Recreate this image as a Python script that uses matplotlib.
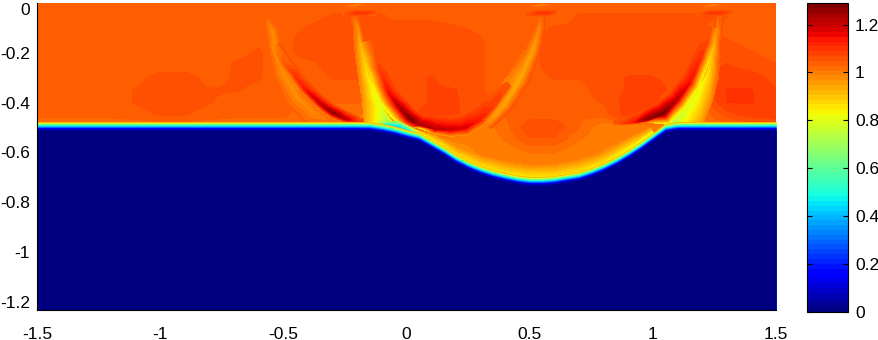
# -*- coding: utf-8 -*-
import numpy as np
import matplotlib
matplotlib.use("Agg")
import matplotlib.pyplot as plt
from matplotlib.tri import Triangulation

plt.rcParams["font.family"] = ["Liberation Sans", "DejaVu Sans"]
plt.rcParams["axes.unicode_minus"] = False

VMAX = 1.29

# coarse field above the front, x from -1.5 to 1.5 by 0.1, y from 0 to -0.75 by 0.05
field_x = [-1.5, -1.4, -1.3, -1.2, -1.1, -1.0, -0.9, -0.8, -0.7, -0.6, -0.5, -0.4, -0.3, -0.2, -0.1, 0.0,
           0.1, 0.2, 0.3, 0.4, 0.5, 0.6, 0.7, 0.8, 0.9, 1.0, 1.1, 1.2, 1.3, 1.4, 1.5]
field_y = [0.0, -0.05, -0.1, -0.15, -0.2, -0.25, -0.3, -0.35, -0.4, -0.45, -0.5, -0.55, -0.6, -0.65, -0.7, -0.75]
field = [
    [1.035, 1.035, 1.035, 1.035, 1.035, 1.035, 1.035, 1.035, 1.035, 1.035, 1.035, 1.035, 1.04, 1.04, 1.04, 1.04, 1.04, 1.04, 1.04, 1.04, 1.035, 1.035, 1.04, 1.04, 1.04, 1.04, 1.04, 1.04, 1.035, 1.035, 1.035],
    [1.035, 1.035, 1.035, 1.035, 1.035, 1.035, 1.035, 1.035, 1.04, 1.04, 1.04, 1.04, 1.05, 1.05, 1.05, 1.04, 1.04, 1.04, 1.04, 1.04, 1.04, 1.04, 1.05, 1.05, 1.05, 1.05, 1.05, 1.05, 1.05, 1.04, 1.04],
    [1.035, 1.035, 1.035, 1.035, 1.035, 1.035, 1.035, 1.035, 1.04, 1.04, 1.04, 1.05, 1.06, 1.05, 1.05, 1.06, 1.06, 1.05, 1.045, 1.04, 1.04, 1.05, 1.05, 1.06, 1.06, 1.06, 1.06, 1.05, 1.04, 1.04, 1.04],
    [1.035, 1.035, 1.035, 1.035, 1.035, 1.035, 1.035, 1.035, 1.045, 1.045, 1.04, 1.06, 1.06, 1.06, 1.05, 1.06, 1.06, 1.06, 1.05, 1.04, 1.04, 1.06, 1.06, 1.06, 1.06, 1.06, 1.06, 1.06, 1.05, 1.04, 1.04],
    [1.035, 1.035, 1.035, 1.035, 1.035, 1.035, 1.035, 1.035, 1.045, 1.05, 1.04, 1.06, 1.06, 1.06, 1.05, 1.06, 1.06, 1.06, 1.05, 1.04, 1.04, 1.06, 1.06, 1.06, 1.06, 1.06, 1.06, 1.06, 1.06, 1.05, 1.04],
    [1.035, 1.035, 1.035, 1.035, 1.035, 1.035, 1.035, 1.035, 1.05, 1.05, 1.04, 1.04, 1.06, 1.06, 1.05, 1.06, 1.06, 1.06, 1.05, 1.04, 1.04, 1.06, 1.06, 1.06, 1.06, 1.06, 1.06, 1.06, 1.07, 1.06, 1.05],
    [1.035, 1.035, 1.035, 1.035, 1.04, 1.06, 1.06, 1.04, 1.05, 1.05, 1.035, 1.035, 1.05, 1.05, 1.04, 1.06, 1.07, 1.06, 1.05, 1.04, 1.04, 1.05, 1.05, 1.06, 1.07, 1.07, 1.06, 1.06, 1.08, 1.08, 1.06],
    [1.035, 1.035, 1.035, 1.035, 1.05, 1.06, 1.06, 1.05, 1.05, 1.045, 1.035, 1.035, 1.04, 1.04, 1.035, 1.06, 1.07, 1.07, 1.05, 1.04, 1.04, 1.04, 1.04, 1.06, 1.07, 1.08, 1.06, 1.06, 1.09, 1.09, 1.07],
    [1.035, 1.035, 1.035, 1.035, 1.05, 1.06, 1.06, 1.05, 1.04, 1.035, 1.035, 1.02, 1.03, 1.03, 1.01, 1.06, 1.07, 1.07, 1.06, 1.03, 1.04, 1.04, 1.04, 1.05, 1.08, 1.08, 1.03, 1.04, 1.09, 1.09, 1.08],
    [1.035, 1.035, 1.035, 1.035, 1.04, 1.05, 1.05, 1.04, 1.035, 1.035, 1.035, 1.01, 1.01, 1.01, 0.99, 1.06, 1.08, 1.07, 1.06, 1.03, 1.04, 1.04, 1.03, 1.04, 1.08, 1.08, 1.01, 1.01, 1.06, 1.08, 1.08],
    [1.01, 1.01, 1.01, 1.01, 1.01, 1.01, 1.01, 1.01, 1.01, 1.01, 1.01, 1.01, 1.01, 1.01, 1.01, 0.99, 1.03, 1.01, 0.99, 1.02, 1.065, 1.065, 1.03, 0.99, 0.99, 0.99, 0.99, 1.01, 1.01, 1.03, 1.05],
    [0.99, 0.99, 0.99, 0.99, 0.99, 0.99, 0.99, 0.99, 0.99, 0.99, 0.99, 0.99, 0.99, 0.99, 0.99, 0.99, 0.98, 0.99, 0.99, 1.01, 1.045, 1.045, 1.01, 0.99, 0.99, 0.99, 0.99, 0.99, 0.99, 0.99, 0.99],
    [0.99, 0.99, 0.99, 0.99, 0.99, 0.99, 0.99, 0.99, 0.99, 0.99, 0.99, 0.99, 0.99, 0.99, 0.99, 0.99, 0.99, 0.98, 0.99, 0.99, 1.01, 1.01, 0.99, 0.99, 0.98, 0.98, 0.99, 0.99, 0.99, 0.99, 0.99],
    [0.99, 0.99, 0.99, 0.99, 0.99, 0.99, 0.99, 0.99, 0.99, 0.99, 0.99, 0.99, 0.99, 0.99, 0.99, 0.99, 0.99, 0.99, 0.98, 0.99, 0.99, 0.99, 0.99, 0.98, 0.98, 0.99, 0.99, 0.99, 0.99, 0.99, 0.99],
    [0.99, 0.99, 0.99, 0.99, 0.99, 0.99, 0.99, 0.99, 0.99, 0.99, 0.99, 0.99, 0.99, 0.99, 0.99, 0.99, 0.99, 0.99, 0.98, 0.98, 0.98, 0.98, 0.98, 0.98, 0.99, 0.99, 0.99, 0.99, 0.99, 0.99, 0.99],
    [0.99, 0.99, 0.99, 0.99, 0.99, 0.99, 0.99, 0.99, 0.99, 0.99, 0.99, 0.99, 0.99, 0.99, 0.99, 0.99, 0.99, 0.99, 0.99, 0.98, 0.98, 0.98, 0.98, 0.99, 0.99, 0.99, 0.99, 0.99, 0.99, 0.99, 0.99],
]

# depth of the front, x by 0.05
front_x = [-1.5, -1.45, -1.4, -1.35, -1.3, -1.25, -1.2, -1.15, -1.1, -1.05, -1.0, -0.95, -0.9, -0.85, -0.8, -0.75,
           -0.7, -0.65, -0.6, -0.55, -0.5, -0.45, -0.4, -0.35, -0.3, -0.25, -0.2, -0.15, -0.1, -0.05, 0.0, 0.05,
           0.1, 0.15, 0.2, 0.25, 0.3, 0.35, 0.4, 0.45, 0.5, 0.55, 0.6, 0.65, 0.7, 0.75, 0.8, 0.85, 0.9, 0.95,
           1.0, 1.05, 1.1, 1.15, 1.2, 1.25, 1.3, 1.35, 1.4, 1.45, 1.5]
front_y = [-0.49] * 27 + [-0.491, -0.498, -0.508, -0.522, -0.534, -0.562, -0.59, -0.622, -0.647, -0.667,
                          -0.683, -0.695, -0.705, -0.711, -0.711, -0.707, -0.699, -0.691, -0.675, -0.655,
                          -0.631, -0.602, -0.57, -0.534, -0.498] + [-0.49] * 9
# vertical transition through the front (offset from the front, value)
band_offsets = [0.014, 0.010, 0.006, 0.002, -0.002, -0.006, -0.010, -0.014, -0.020]
band_values = [0.92, 0.78, 0.64, 0.52, 0.42, 0.30, 0.18, 0.08, 0.0]

# ridges: x, y, value, width on the inner side, width on the outer side, value at inner edge, value at outer edge
light_a = ([-0.556, -0.546, -0.530, -0.501, -0.444, -0.379, -0.300],
           [-0.06, -0.108, -0.190, -0.281, -0.378, -0.442, -0.478],
           [1.035, 0.97, 0.97, 0.97, 0.97, 0.98, 1.01],
           [0.02, 0.025, 0.03, 0.035, 0.04, 0.04, 0.02], [0.02, 0.025, 0.03, 0.04, 0.05, 0.05, 0.02],
           [1.04] * 7, [1.035] * 7)
ridge_a = ([-0.534, -0.501, -0.461, -0.420, -0.379, -0.339, -0.298, -0.250, -0.197, -0.150],
           [-0.169, -0.237, -0.281, -0.337, -0.378, -0.414, -0.442, -0.466, -0.480, -0.484],
           [0.99, 1.04, 1.09, 1.13, 1.18, 1.21, 1.26, 1.21, 1.09, 0.99],
           [0.02, 0.03, 0.03, 0.03, 0.03, 0.03, 0.03, 0.03, 0.02, 0.01], [0.015, 0.018, 0.02, 0.02, 0.02, 0.02, 0.02, 0.015, 0.01, 0.005],
           [1.05] * 10, [0.97, 0.97, 0.97, 0.97, 0.97, 0.97, 0.98, 0.98, 0.98, 0.98])
yellow_b = ([-0.205, -0.197, -0.180, -0.156, -0.124, -0.091, -0.067, -0.05],
            [-0.05, -0.096, -0.189, -0.289, -0.369, -0.438, -0.478, -0.488],
            [1.035, 0.96, 0.90, 0.84, 0.79, 0.76, 0.68, 0.6],
            [0.015, 0.015, 0.018, 0.02, 0.02, 0.02, 0.02, 0.01], [0.02, 0.02, 0.03, 0.04, 0.06, 0.09, 0.09, 0.08],
            [1.05] * 8, [1.04, 1.03, 1.01, 0.99, 0.97, 0.94, 0.86, 0.76])
ridge_b = ([-0.150, -0.125, -0.100, -0.067, -0.026, 0.014, 0.055, 0.116, 0.177, 0.238, 0.299, 0.360, 0.42],
           [-0.150, -0.215, -0.290, -0.369, -0.422, -0.466, -0.490, -0.506, -0.510, -0.502, -0.470, -0.410, -0.33],
           [1.04, 1.05, 1.10, 1.16, 1.23, 1.28, 1.23, 1.21, 1.19, 1.18, 1.13, 1.08, 1.05],
           [0.02, 0.02, 0.03, 0.035, 0.04, 0.04, 0.04, 0.05, 0.05, 0.05, 0.05, 0.04, 0.02],
           [0.04, 0.045, 0.045, 0.05, 0.05, 0.05, 0.012, 0.02, 0.025, 0.03, 0.025, 0.015, 0.01],
           [1.06] * 13, [0.92, 0.89, 0.85, 0.80, 0.78, 0.76, 0.8, 0.93, 0.96, 0.97, 0.97, 0.96, 0.97])
light_d = ([0.548, 0.542, 0.514, 0.461, 0.400, 0.360, 0.33],
           [-0.05, -0.096, -0.189, -0.309, -0.410, -0.462, -0.49],
           [1.04, 0.98, 0.94, 0.93, 0.94, 0.96, 0.99],
           [0.015, 0.02, 0.03, 0.035, 0.03, 0.02, 0.02], [0.015, 0.02, 0.03, 0.05, 0.06, 0.06, 0.05],
           [1.05] * 7, [1.04, 1.04, 1.03, 1.01, 0.99, 0.99, 0.99])
yellow_c = ([1.075, 1.090, 1.131, 1.180, 1.220, 1.245, 1.261, 1.268],
            [-0.482, -0.470, -0.430, -0.361, -0.281, -0.189, -0.108, -0.05],
            [0.68, 0.75, 0.78, 0.80, 0.84, 0.91, 0.97, 1.035],
            [0.01, 0.02, 0.02, 0.02, 0.018, 0.015, 0.012, 0.012], [0.08, 0.09, 0.09, 0.07, 0.05, 0.03, 0.02, 0.02],
            [1.05] * 8, [0.89, 0.91, 0.96, 0.99, 1.03, 1.05, 1.05, 1.05])
ridge_c = ([0.840, 0.867, 0.920, 0.977, 1.042, 1.098, 1.151, 1.192, 1.220, 1.238],
           [-0.484, -0.484, -0.480, -0.468, -0.446, -0.390, -0.321, -0.229, -0.161, -0.10],
           [1.04, 1.07, 1.13, 1.26, 1.29, 1.21, 1.15, 1.11, 1.07, 1.05],
           [0.01, 0.02, 0.03, 0.04, 0.05, 0.04, 0.04, 0.035, 0.03, 0.02],
           [0.005, 0.006, 0.008, 0.012, 0.05, 0.045, 0.04, 0.035, 0.03, 0.02],
           [1.06] * 10, [1.01, 1.01, 0.99, 0.92, 0.74, 0.78, 0.80, 0.84, 0.91, 0.97])
# pale rim just above the front under the bowl
rim = ([0.02, 0.10, 0.20, 0.30, 0.40, 0.50, 0.60, 0.70, 0.80, 0.90, 1.00],
       [-0.518, -0.550, -0.605, -0.650, -0.678, -0.692, -0.690, -0.672, -0.636, -0.584, -0.520],
       [0.74, 0.82, 0.87, 0.87, 0.87, 0.87, 0.87, 0.87, 0.87, 0.84, 0.78],
       [0.012, 0.02, 0.03, 0.04, 0.045, 0.045, 0.045, 0.045, 0.04, 0.035, 0.02], [0.02] * 11,
       [0.86, 0.94, 0.98, 0.99, 0.99, 0.99, 0.99, 0.99, 0.99, 0.97, 0.96], [0.82] * 11)
cyan_b = ([-0.12, -0.08, -0.03, 0.01, 0.04], [-0.486, -0.486, -0.492, -0.510, -0.525],
          [0.7, 0.48, 0.45, 0.45, 0.6], [0.008, 0.012, 0.014, 0.012, 0.01], [0.01] * 5,
          [0.8, 0.7, 0.7, 0.72, 0.78], [0.45] * 5)
top_spots = [([-0.26, -0.21, -0.16, -0.12], [-0.04] * 4, [1.04, 1.09, 1.09, 1.04], [0.012] * 4, [0.012] * 4, [1.04] * 4, [1.04] * 4),
             ([0.48, 0.53, 0.58, 0.62], [-0.04] * 4, [1.04, 1.09, 1.09, 1.04], [0.012] * 4, [0.012] * 4, [1.04] * 4, [1.04] * 4),
             ([1.18, 1.23, 1.28, 1.33], [-0.04] * 4, [1.04, 1.09, 1.09, 1.04], [0.012] * 4, [0.012] * 4, [1.04] * 4, [1.04] * 4),
             ([-0.25, -0.20, -0.15], [-0.006] * 3, [1.04, 0.96, 1.04], [0.006] * 3, [0.012] * 3, [1.04] * 3, [1.04] * 3),
             ([0.50, 0.55, 0.60], [-0.006] * 3, [1.04, 0.96, 1.04], [0.006] * 3, [0.012] * 3, [1.04] * 3, [1.04] * 3),
             ([1.20, 1.25, 1.30], [-0.006] * 3, [1.04, 0.96, 1.04], [0.006] * 3, [0.012] * 3, [1.04] * 3, [1.04] * 3)]

cbar_ticks = [0, 0.2, 0.4, 0.6, 0.8, 1, 1.2]
cbar_labels = ["0", "0.2", "0.4", "0.6", "0.8", "1", "1.2"]
x_ticks = [-1.5, -1, -0.5, 0, 0.5, 1, 1.5]
x_labels = ["-1.5", "-1", "-0.5", "0", "0.5", "1", "1.5"]
y_ticks = [0, -0.2, -0.4, -0.6, -0.8, -1, -1.2]
y_labels = ["0", "-0.2", "-0.4", "-0.6", "-0.8", "-1", "-1.2"]

cmap = plt.get_cmap("jet", 64)
norm = plt.Normalize(0, VMAX)
levels = np.linspace(0, VMAX, 65)


def strip(ax, ridge, zorder=1.5):
    """Fill a ridge as a triangle strip: inner edge, centre line, outer edge."""
    xs, ys, vals, w_in, w_out, v_in, v_out = [np.asarray(a, float) for a in ridge]
    dx, dy = np.gradient(xs), np.gradient(ys)
    length = np.hypot(dx, dy)
    nx, ny = -dy / length, dx / length
    px = np.column_stack([xs + nx * w_in, xs, xs - nx * w_out]).ravel()
    py = np.column_stack([ys + ny * w_in, ys, ys - ny * w_out]).ravel()
    pz = np.column_stack([v_in, vals, v_out]).ravel()
    tris = []
    for i in range(len(xs) - 1):
        for j in range(2):
            a, b = 3 * i + j, 3 * i + j + 1
            c, d = a + 3, b + 3
            tris += [[a, b, c], [b, d, c]]
    ax.tricontourf(Triangulation(px, py, tris), pz, levels=levels, cmap=cmap, norm=norm,
                   antialiased=False, zorder=zorder)


fig = plt.figure(figsize=(8.79, 3.40), dpi=100)
ax = fig.add_axes([37 / 879, 30 / 340, 739 / 879, 307 / 340])
cax = fig.add_axes([807 / 879, 28 / 340, 41 / 879, 309 / 340])

step_x, step_y = 0.05, 0.025
im = ax.imshow(field, cmap=cmap, norm=norm, interpolation="bilinear", interpolation_stage="data",
               aspect="auto", origin="upper", zorder=1,
               extent=[field_x[0] - step_x, field_x[-1] + step_x, field_y[-1] - step_y, field_y[0] + step_y])

for ridge in (light_a, ridge_a, light_d, yellow_c, ridge_c, yellow_b, rim, ridge_b, cyan_b):
    strip(ax, ridge)
for spot in top_spots:
    strip(ax, spot)

for off, val in zip(band_offsets, band_values):
    ax.fill_between(front_x, np.array(front_y) + off, -1.3, color=cmap(norm(val)), lw=0, zorder=2)

ax.set_xlim(-1.5, 1.5)
ax.set_ylim(-1.233, 0)
ax.set_xticks(x_ticks, x_labels)
ax.set_yticks(y_ticks, y_labels)
ax.tick_params(length=0, labelsize=12.5, pad=5)
ax.tick_params(axis="x", pad=12)
ax.get_yticklabels()[0].set_va("top")
for side in ("top", "right"):
    ax.spines[side].set_visible(False)
for side in ("left", "bottom"):
    ax.spines[side].set_linewidth(0.8)

cb = fig.colorbar(im, cax=cax)
cb.set_ticks(cbar_ticks, labels=cbar_labels)
cax.tick_params(direction="in", length=3.5, width=0.8, left=True, right=True, labelsize=12.5, pad=5)
cb.outline.set_linewidth(0.8)

fig.savefig("out.png", dpi=100)
